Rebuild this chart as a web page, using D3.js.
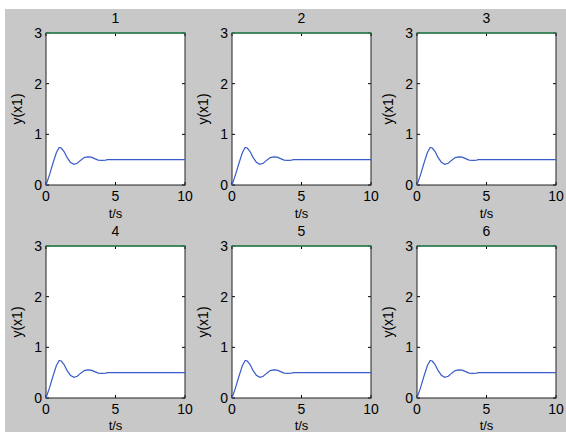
<!DOCTYPE html>
<meta charset="utf-8">
<head>
    <title>y(x1) step responses</title>
    <style>
        body { margin: 0; background: #fff; }
        text { font-family: "Liberation Sans", Arial, sans-serif; fill: #000; }
    </style>
</head>
<body>
<script src="https://d3js.org/d3.v7.min.js"></script>
<script>
    // data (same response in every panel)
    var titles = ["1", "2", "3", "4", "5", "6"];
    var tVals = [0, 0.25, 0.5, 0.75, 0.95, 1.1, 1.3, 1.5, 1.75, 2.0, 2.25, 2.5, 2.75, 3.0, 3.25, 3.5, 3.75, 4.0, 4.3, 4.4, 5, 10];
    var yVals = [0, 0.2, 0.43, 0.64, 0.74, 0.73, 0.66, 0.55, 0.45, 0.41, 0.43, 0.49, 0.54, 0.555, 0.55, 0.52, 0.49, 0.485, 0.49, 0.5, 0.5, 0.5];
    var xTicks = [0, 5, 10];
    var yTicks = [0, 1, 2, 3];
    var topLine = [3, 3];

    var W = 566, H = 432;
    var colX = [46, 232, 417], rowY = [33, 246];
    var pw = 139, ph = 152;

    var svg = d3.select("body").append("svg")
        .attr("width", W).attr("height", H);

    // grey figure background with a white strip top/left
    svg.append("rect").attr("width", W).attr("height", H).attr("fill", "#fff");
    svg.append("rect").attr("x", 5).attr("y", 9).attr("width", W - 5).attr("height", H - 9).attr("fill", "#c8c8c8");

    var x = d3.scaleLinear().domain([0, 10]).range([0, pw]);
    var y = d3.scaleLinear().domain([0, 3]).range([ph, 0]);

    var line = d3.line()
        .x(function(d, i) { return x(tVals[i]); })
        .y(function(d) { return y(d); });

    titles.forEach(function(title, k) {
        var row = Math.floor(k / 3);
        var g = svg.append("g")
            .attr("transform", "translate(" + colX[k % 3] + "," + rowY[row] + ")");

        g.append("rect").attr("width", pw).attr("height", ph).attr("fill", "#fff");

        // ticks inside the box, both sides
        xTicks.forEach(function(t) {
            g.append("line").attr("x1", x(t)).attr("x2", x(t)).attr("y1", ph).attr("y2", ph - 3).attr("stroke", "#000");
            g.append("line").attr("x1", x(t)).attr("x2", x(t)).attr("y1", 0).attr("y2", 3).attr("stroke", "#000");
            g.append("text").attr("x", x(t)).attr("y", ph + 16)
                .attr("text-anchor", "middle").style("font-size", "14px").text(t);
        });
        yTicks.forEach(function(t) {
            g.append("line").attr("x1", 0).attr("x2", 3).attr("y1", y(t)).attr("y2", y(t)).attr("stroke", "#000");
            g.append("line").attr("x1", pw).attr("x2", pw - 3).attr("y1", y(t)).attr("y2", y(t)).attr("stroke", "#000");
            g.append("text").attr("x", -4).attr("y", y(t) + 5)
                .attr("text-anchor", "end").style("font-size", "14px").text(t);
        });

        g.append("rect").attr("width", pw).attr("height", ph)
            .attr("fill", "none").attr("stroke", "#222").attr("stroke-width", 1);

        g.append("path").datum(yVals).attr("d", line)
            .attr("fill", "none").attr("stroke", "#3a5cc8").attr("stroke-width", 1.2);

        g.append("line").attr("x1", x(0)).attr("x2", x(10))
            .attr("y1", y(topLine[0])).attr("y2", y(topLine[1]))
            .attr("stroke", "#2e8b57").attr("stroke-width", 1.3);

        g.append("text").attr("x", pw / 2).attr("y", -10)
            .attr("text-anchor", "middle").style("font-size", "14px").text(title);
        g.append("text").attr("x", pw / 2).attr("y", row === 0 ? ph + 33 : ph + 32)
            .attr("text-anchor", "middle").style("font-size", "13px").text("t/s");
        g.append("text")
            .attr("transform", "translate(" + -24 + "," + (ph / 2) + ") rotate(-90)")
            .attr("text-anchor", "middle").style("font-size", "14px").text("y(x1)");
    });
</script>
</body>
</html>
